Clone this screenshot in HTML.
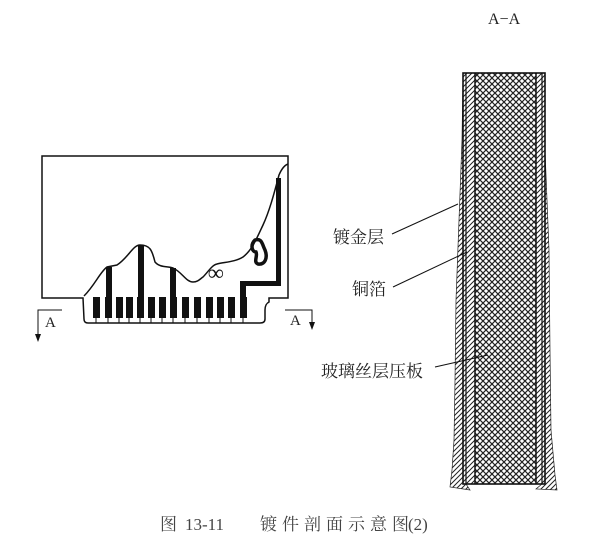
<!DOCTYPE html>
<html><head><meta charset="utf-8"><style>
html,body{margin:0;padding:0;background:#fff;}
svg{display:block;}
text{font-family:"Liberation Serif","Noto Serif CJK SC",serif;fill:#222;}
</style></head><body>
<svg width="606" height="549" viewBox="0 0 606 549" xmlns="http://www.w3.org/2000/svg">
<defs>
<pattern id="cross" width="6" height="6" patternUnits="userSpaceOnUse">
<path d="M0,0 L6,6 M6,0 L0,6" stroke="#222" stroke-width="1.2"/>
</pattern>
<pattern id="diag" width="5" height="5" patternUnits="userSpaceOnUse">
<path d="M0,5 L5,0 M-1,1 L1,-1 M4,6 L6,4" stroke="#222" stroke-width="1"/>
</pattern>
</defs>
<g fill="none" stroke="#111" stroke-width="1.5">
<path d="M83,298 L42,298 L42,156 L288,156 L288,298 L269,298 L269,302 Q265,304 265,310 L265,319 Q265,323 260,323 L88,323 Q84,323 84,319 Z" fill="#fff"/>
<path d="M84,296 C95,285 100,272 107,267 L117,265 C128,258 133,245 140,245 C150,245 152,250 155,262 C160,268 168,266 173,268 C182,272 186,282 193,282 C198,282 200,279 203,277 C208,272 212,265 217,264 C225,262 235,262 243,257 C252,250 256,240 263,225 C270,210 275,190 279,175 C282,168 285,165 288,164"/>
</g>
<g fill="#111">
<rect x="93" y="297" width="7" height="21"/><rect x="105" y="297" width="7" height="21"/>
<rect x="116" y="297" width="7" height="21"/><rect x="126" y="297" width="7" height="21"/>
<rect x="137" y="297" width="7" height="21"/><rect x="148" y="297" width="7" height="21"/>
<rect x="159" y="297" width="7" height="21"/><rect x="170" y="297" width="7" height="21"/>
<rect x="182" y="297" width="7" height="21"/><rect x="194" y="297" width="7" height="21"/>
<rect x="206" y="297" width="7" height="21"/><rect x="217" y="297" width="7" height="21"/>
<rect x="228" y="297" width="7" height="21"/><rect x="240" y="297" width="7" height="21"/>
<rect x="106" y="267" width="6" height="32"/>
<rect x="138" y="245" width="6" height="54"/>
<rect x="170" y="268" width="6" height="31"/>
<rect x="240" y="283" width="6" height="16"/>
<rect x="240" y="281" width="41" height="5"/>
<rect x="276" y="178" width="5" height="108"/>
</g>
<g stroke="#111" stroke-width="1">
<path d="M96,318V323 M108,318V323 M119,318V323 M129,318V323 M140,318V323 M151,318V323 M162,318V323 M173,318V323 M185,318V323 M197,318V323 M209,318V323 M220,318V323 M231,318V323 M243,318V323"/>
</g>
<text x="208" y="280" font-size="22" font-weight="bold" style="fill:#111">∞</text>
<path d="M255,240 C250,245 252,252 256,252 C258,256 253,262 258,264 C265,265 268,258 265,250 C262,244 262,238 255,240 Z" fill="none" stroke="#111" stroke-width="3.5"/>
<g stroke="#111" stroke-width="1" fill="none">
<path d="M62,310 L38,310 L38,337"/>
<path d="M285,310 L312,310 L312,325"/>
</g>
<path d="M35,334 L38,342 L41,334 Z" fill="#111"/>
<path d="M309,322 L312,330 L315,322 Z" fill="#111"/>
<text x="45" y="327" font-size="15">A</text>
<text x="290" y="325" font-size="15">A</text>
<text x="488" y="24" font-size="16">A−A</text>
<path d="M463,73 L462,140 L459,220 L456,300 L455,380 L454,440 L452,470 L450,487 L470,490 L466,484 L466,73 Z" fill="url(#diag)" stroke="#222" stroke-width="0.7"/>
<path d="M545,73 L545,150 L549,250 L550,350 L551,430 L555,475 L557,490 L536,489 L542,484 L542,73 Z" fill="url(#diag)" stroke="#222" stroke-width="0.7"/>
<rect x="466" y="73" width="9" height="411" fill="url(#diag)"/>
<rect x="536" y="73" width="6" height="411" fill="url(#diag)"/>
<rect x="475" y="73" width="61" height="411" fill="url(#cross)"/>
<g stroke="#111" fill="none">
<rect x="463" y="73" width="82" height="411" stroke-width="1.6"/>
<line x1="466" y1="73" x2="466" y2="484" stroke-width="1.2"/>
<line x1="475" y1="73" x2="475" y2="484" stroke-width="1.5"/>
<line x1="536" y1="73" x2="536" y2="484" stroke-width="1.5"/>
<line x1="542" y1="73" x2="542" y2="484" stroke-width="1.2"/>
<line x1="392" y1="234" x2="458" y2="204" stroke-width="1"/>
<line x1="393" y1="287" x2="467" y2="252" stroke-width="1"/>
<line x1="435" y1="367" x2="488" y2="355" stroke-width="1"/>
</g>
<text x="333" y="243" font-size="17">镀金层</text>
<text x="352" y="295" font-size="17">铜箔</text>
<text x="321" y="377" font-size="17">玻璃丝层压板</text>
<text x="160" y="530" font-size="17" style="fill:#444">图</text>
<text x="185" y="530" font-size="17" style="fill:#444">13-11</text>
<text x="260" y="530" font-size="17" letter-spacing="5" style="fill:#444">镀件剖面示意图</text>
<text x="408" y="530" font-size="17" style="fill:#444">(2)</text>
</svg>
</body></html>
